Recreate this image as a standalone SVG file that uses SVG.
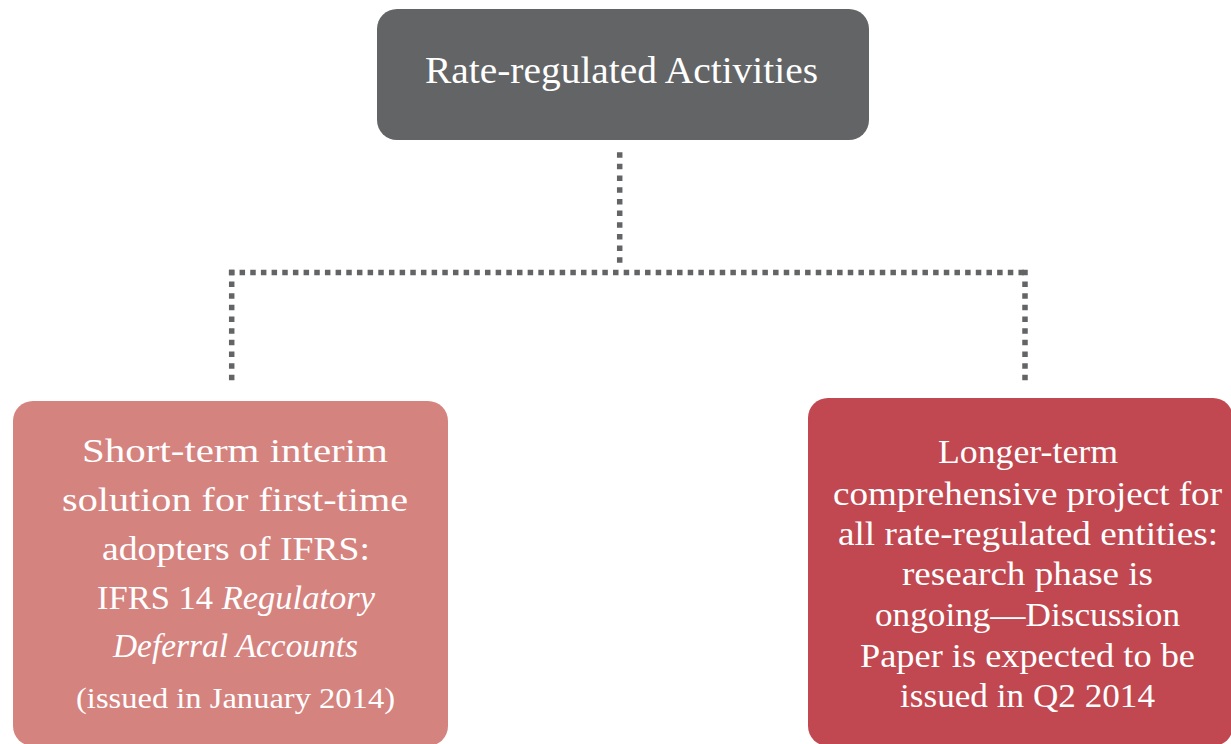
<svg xmlns="http://www.w3.org/2000/svg" width="1231" height="744" viewBox="0 0 1231 744">
<style>
.t{font-family:"Liberation Serif","Times New Roman",serif;fill:#ffffff;text-anchor:middle}
.c{fill:none;stroke:#636466;stroke-width:5.5}
.h{stroke-dasharray:5.5 5.17}
.v{stroke-dasharray:5.5 6.17}
</style>
<rect width="1231" height="744" fill="#ffffff"/>
<g id="connectors">
<path class="c v" d="M619.7 152.2V263"/>
<path class="c h" d="M228.9 272.5H1028"/>
<path class="c v" d="M231.7 269.8V381"/>
<path class="c v" d="M1025 269.8V381"/>
</g>
<g id="top">
<rect x="377" y="9" width="492" height="131" rx="20" fill="#636466"/>
<text class="t" x="621.5" y="83" font-size="37" textLength="393" lengthAdjust="spacingAndGlyphs">Rate-regulated Activities</text>
</g>
<g id="left">
<rect x="13" y="401" width="435" height="345" rx="20" fill="#d5837f"/>
<g class="t" font-size="33">
<text x="235" y="462" textLength="306" lengthAdjust="spacingAndGlyphs">Short-term interim</text>
<text x="235" y="511" textLength="346" lengthAdjust="spacingAndGlyphs">solution for first-time</text>
<text x="236" y="560" textLength="268" lengthAdjust="spacingAndGlyphs">adopters of IFRS:</text>
<text x="236" y="609" textLength="278" lengthAdjust="spacingAndGlyphs">IFRS 14 <tspan font-style="italic">Regulatory</tspan></text>
<text x="235.5" y="657" font-style="italic" textLength="245" lengthAdjust="spacingAndGlyphs">Deferral Accounts</text>
<text x="235.5" y="708" font-size="29" textLength="319" lengthAdjust="spacingAndGlyphs">(issued in January 2014)</text>
</g>
</g>
<g id="right">
<rect x="808" y="398" width="425" height="348" rx="20" fill="#c14850"/>
<g class="t" font-size="33">
<text x="1028" y="463" textLength="180" lengthAdjust="spacingAndGlyphs">Longer-term</text>
<text x="1027.5" y="505" textLength="389" lengthAdjust="spacingAndGlyphs">comprehensive project for</text>
<text x="1028" y="545" textLength="380" lengthAdjust="spacingAndGlyphs">all rate-regulated entities:</text>
<text x="1027.5" y="585" textLength="251" lengthAdjust="spacingAndGlyphs">research phase is</text>
<text x="1027.5" y="626" textLength="305" lengthAdjust="spacingAndGlyphs">ongoing—Discussion</text>
<text x="1027.5" y="667" textLength="335" lengthAdjust="spacingAndGlyphs">Paper is expected to be</text>
<text x="1027.5" y="707" textLength="255" lengthAdjust="spacingAndGlyphs">issued in Q2 2014</text>
</g>
</g>
</svg>
